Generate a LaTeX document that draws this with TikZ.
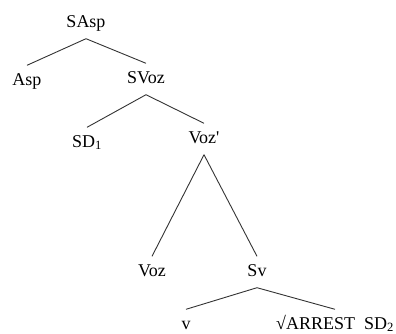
\documentclass[tikz,border=0pt]{standalone}
\usepackage{fontspec}
\setmainfont{Liberation Serif}
\begin{document}
\begin{tikzpicture}[
  x=1pt, y=-1pt,
  font=\fontsize{18}{20}\selectfont,
  cat/.style={anchor=base, inner xsep=0pt, inner ysep=7.5pt, text height=12pt, text depth=4pt},
  branch/.style={draw=black!80, line width=0.9pt}
]
\useasboundingbox (0,0) rectangle (396,333);
% tree nodes, placed on their baselines
\node[cat] (sasp) at (86,27) {SAsp};
\node[cat] (asp) at (27,85) {Asp};
\node[cat] (svoz) at (146,83) {SVoz};
\node[cat] (sd) at (87,147) {SD\textsubscript{1}};
\node[cat] (vozbar) at (204,143) {Voz\textquotesingle};
\node[cat] (voz) at (152,276) {Voz};
\node[cat] (sv) at (257,276) {Sv};
\node[cat] (v) at (186,329) {v};
\node[cat] (root) at (335,329) {√ARREST\ \ SD\textsubscript{2}};
% branches
\foreach \a/\b in {sasp/asp,sasp/svoz,svoz/sd,svoz/vozbar,vozbar/voz,vozbar/sv,sv/v,sv/root} {
  \draw[branch] (\a.south) -- (\b.north);
}
\end{tikzpicture}
\end{document}
